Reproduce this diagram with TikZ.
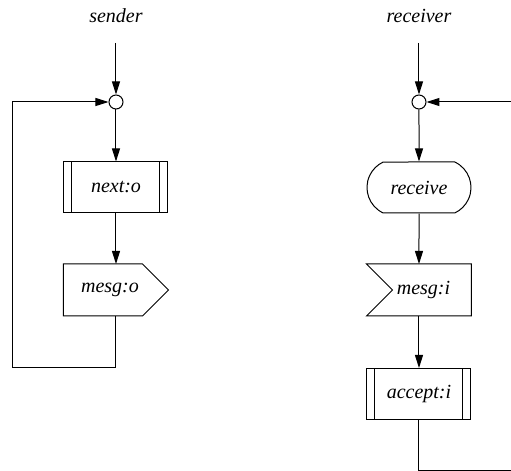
\documentclass[tikz,border=0pt]{standalone}
\usepackage{fontspec}
\setmainfont{Liberation Serif}
\usepackage{tikz}
\usetikzlibrary{positioning, arrows.meta, shapes.geometric, shapes.misc}

\tikzset{
  blk/.style={draw, fill=white, font=\itshape, minimum width=52pt, minimum height=25.5pt, inner sep=0pt},
  subproc/.style={blk, rectangle, path picture={
      \draw ([xshift=4pt]path picture bounding box.north west) -- ([xshift=4pt]path picture bounding box.south west);
      \draw ([xshift=-4pt]path picture bounding box.north east) -- ([xshift=-4pt]path picture bounding box.south east);}},
  sigbox/.style={blk, draw=none, fill=none, rectangle},
  recvbox/.style={blk, rounded rectangle, rounded rectangle arc length=130},
  junction/.style={circle, draw, fill=white, minimum size=7pt, inner sep=0pt},
  flow/.style={-{Triangle[length=6.5pt,width=4pt]}}
}

\begin{document}
\begin{tikzpicture}[x=0.5pt, y=-0.5pt, line width=0.5pt]
    \useasboundingbox (0,0) rectangle (511,471);
    % mittente
    \node[font=\itshape] (lsend) at (116,16) {sender};
    \coordinate (stop) at (116,43);
    \node[junction] (jsend) at (116,102) {};
    \node[subproc] (next) at (116,187.5) {next:o};
    \node[sigbox] (msgo) at (116,290) {\hspace*{-6pt}mesg:o};
    \draw (msgo.north west) -- ([xshift=-13pt]msgo.north east) -- (msgo.east)
        -- ([xshift=-13pt]msgo.south east) -- (msgo.south west) -- cycle; % invio
    \coordinate (sloop) at (13,368);
    \draw[flow] (stop) -- (jsend);
    \draw[flow] (jsend) -- (next);
    \draw[flow] (next) -- (msgo);
    \draw[flow] (msgo.south) |- (sloop) |- (jsend); % ritorno
    % ricevente
    \node[font=\itshape] (lrecv) at (419,16) {receiver};
    \coordinate (rtop) at (419,43);
    \node[junction] (jrecv) at (419,102) {};
    \node[recvbox] (recv) at (419,187.5) {receive};
    \node[sigbox] (msgi) at (419,290) {\hspace*{4.5pt}mesg:i};
    \draw (msgi.north west) -- (msgi.north east) -- (msgi.south east)
        -- (msgi.south west) -- ([xshift=13pt]msgi.west) -- cycle; % ricezione
    \node[subproc] (acc) at (419,394) {accept:i};
    \coordinate (rbot) at (511,470.5);
    \coordinate (rright) at (511,102);
    \draw[flow] (rtop) -- (jrecv);
    \draw[flow] (jrecv) -- (recv);
    \draw[flow] (recv) -- (msgi);
    \draw[flow] (msgi) -- (acc);
    \draw (acc) |- (rbot);
    \draw[flow] (rright) -- (jrecv);
\end{tikzpicture}
\end{document}
